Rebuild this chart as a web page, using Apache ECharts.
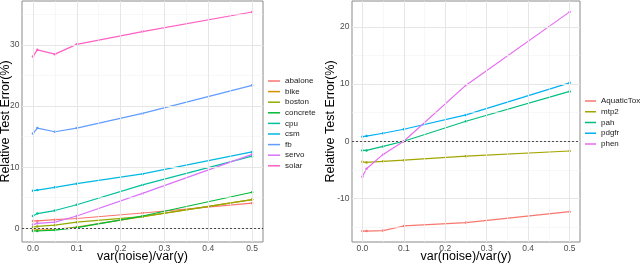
<!DOCTYPE html>
<html>
<head>
<meta charset="utf-8">
<script src="https://cdn.jsdelivr.net/npm/echarts@6/dist/echarts.min.js"></script>
<style>html,body{margin:0;padding:0;background:#fff}#c{width:640px;height:263px}</style>
</head>
<body>
<div id="c"></div>
<script>
// ---- data ----
const xVals = [0, 0.01, 0.05, 0.1, 0.25, 0.5];
const xTicks = [0, 0.1, 0.2, 0.3, 0.4, 0.5];
const xMinor = [0.05, 0.15, 0.25, 0.35, 0.45];

const leftNames = ['abalone','bike','boston','concrete','cpu','csm','fb','servo','solar'];
const abalone  = [1.2, 1.2, 1.4, 1.6, 2.5, 4.1];
const bike     = [-0.3, -0.3, -0.2, 0.2, 1.9, 4.7];
const boston   = [0.2, 0.3, 0.5, 1.0, 1.9, 4.7];
const concrete = [-0.45, -0.45, -0.3, 0.1, 2.0, 5.9];
const cpu      = [2.0, 2.4, 2.9, 3.85, 7.1, 11.8];
const csm      = [6.15, 6.25, 6.7, 7.3, 8.9, 12.5];
const fb       = [15.5, 16.4, 15.8, 16.4, 18.8, 23.4];
const servo    = [0.6, 0.8, 1.0, 2.0, 5.7, 12.1];
const solar    = [28.1, 29.2, 28.5, 30.1, 32.2, 35.4];
const leftTicks = [0, 10, 20, 30];
const leftMinor = [5, 15, 25, 35];

const rightNames = ['AquaticTox','mtp2','pah','pdgfr','phen'];
const AquaticTox = [-15.7, -15.7, -15.6, -14.8, -14.2, -12.3];
const mtp2       = [-3.6, -3.7, -3.5, -3.3, -2.6, -1.7];
const pah        = [-1.6, -1.6, -0.9, 0.0, 3.5, 8.7];
const pdgfr      = [0.8, 0.9, 1.4, 2.1, 4.6, 10.2];
const phen       = [-6.2, -4.8, -2.3, 0.0, 9.8, 22.6];
const rightTicks = [-10, 0, 10, 20];
const rightMinor = [-15, -5, 5, 15];

// ---- styles ----
const leftColors = ['#F8766D','#D39200','#93AA00','#00BA38','#00C19F','#00B9E3','#619CFF','#DB72FB','#FF61C3'];
const rightColors = ['#F8766D','#A3A500','#00BF7D','#00B0F6','#E76BF3'];
const leftData = [abalone, bike, boston, concrete, cpu, csm, fb, servo, solar];
const rightData = [AquaticTox, mtp2, pah, pdgfr, phen];
const FONT = 'Liberation Sans, Arial, sans-serif';

function pairs(ys){ return xVals.map((x,i)=>[x, ys[i]]); }

function gridSeries(idx, yMajor, yMinor){
  const d = [];
  xMinor.forEach(v=>d.push({xAxis:v, lineStyle:{color:'#f2f2f2', width:0.6, type:'solid'}}));
  yMinor.forEach(v=>d.push({yAxis:v, lineStyle:{color:'#f2f2f2', width:0.6, type:'solid'}}));
  xTicks.forEach(v=>d.push({xAxis:v, lineStyle:{color:'#e6e6e6', width:1, type:'solid'}}));
  yMajor.forEach(v=>d.push({yAxis:v, lineStyle:{color:'#e6e6e6', width:1, type:'solid'}}));
  return {
    type:'line', xAxisIndex:idx, yAxisIndex:idx, data:[], silent:true, z:1,
    markLine:{silent:true, symbol:['none','none'], label:{show:false}, animation:false, data:d}
  };
}
function zeroSeries(idx){
  return {
    type:'line', xAxisIndex:idx, yAxisIndex:idx, data:[], silent:true, z:3,
    markLine:{silent:true, symbol:['none','none'], label:{show:false}, animation:false,
      data:[{yAxis:0, lineStyle:{color:'#222', width:0.8, type:[2,2]}}]}
  };
}

const series = [gridSeries(0, leftTicks, leftMinor), gridSeries(1, rightTicks, rightMinor)];
leftNames.forEach((n,i)=>series.push({
  name:n, type:'line', xAxisIndex:0, yAxisIndex:0, data:pairs(leftData[i]),
  symbol:'circle', symbolSize:2.5, showSymbol:true, color:leftColors[i],
  lineStyle:{width:1.2}, z:2, animation:false
}));
rightNames.forEach((n,i)=>series.push({
  name:n, type:'line', xAxisIndex:1, yAxisIndex:1, data:pairs(rightData[i]),
  symbol:'circle', symbolSize:2.5, showSymbol:true, color:rightColors[i],
  lineStyle:{width:1.2}, z:2, animation:false
}));
series.push(zeroSeries(0), zeroSeries(1));

function xAxis(idx){
  return {
    type:'value', gridIndex:idx, min:-0.025, max:0.525,
    name:'var(noise)/var(y)', nameLocation:'middle', nameGap:8.5, nameMoveOverlap:false,
    nameTextStyle:{fontFamily:FONT, fontSize:12.5, color:'#000'},
    axisLine:{show:false}, splitLine:{show:false},
    axisTick:{show:true, length:3, customValues:xTicks, lineStyle:{color:'#444'}},
    axisLabel:{customValues:xTicks, margin:2, fontFamily:FONT, fontSize:8.5, color:'#4d4d4d',
      formatter:v=>v.toFixed(1)}
  };
}
function yAxis(idx, mn, mx, ticks, gap){
  return {
    type:'value', gridIndex:idx, min:mn, max:mx,
    name:'Relative Test Error(%)', nameLocation:'middle', nameGap:gap, nameRotate:90, nameMoveOverlap:false,
    nameTextStyle:{fontFamily:FONT, fontSize:12.5, color:'#000'},
    axisLine:{show:false}, splitLine:{show:false},
    axisTick:{show:true, length:3, customValues:ticks, lineStyle:{color:'#444'}},
    axisLabel:{customValues:ticks, margin:2.5, fontFamily:FONT, fontSize:8.5, color:'#4d4d4d'}
  };
}

const legendText = {fontFamily:FONT, fontSize:8, color:'#1a1a1a', lineHeight:10};
const chart = echarts.init(document.getElementById('c'), null, {renderer:'canvas'});
chart.setOption({
  animation:false,
  backgroundColor:'#fff',
  grid:[
    {left:22, top:1, width:241, height:241, outerBoundsMode:'none', containLabel:false, show:true, borderColor:'#8a8a8a', borderWidth:1, backgroundColor:'transparent'},
    {left:352, top:1, width:228, height:241, outerBoundsMode:'none', containLabel:false, show:true, borderColor:'#8a8a8a', borderWidth:1, backgroundColor:'transparent'}
  ],
  xAxis:[xAxis(0), xAxis(1)],
  yAxis:[yAxis(0, -2.25, 37.2, leftTicks, 9.5), yAxis(1, -17.6, 24.5, rightTicks, 14.5)],
  legend:[
    {data:leftNames, orient:'vertical', left:268, top:76, padding:0, icon:'rect', itemWidth:12, itemHeight:1.5, itemGap:0.6,
     textStyle:legendText},
    {data:rightNames, orient:'vertical', left:585, top:96, padding:0, icon:'rect', itemWidth:11, itemHeight:1.5, itemGap:0.75,
     textStyle:legendText}
  ],
  series:series
});
</script>
</body>
</html>
